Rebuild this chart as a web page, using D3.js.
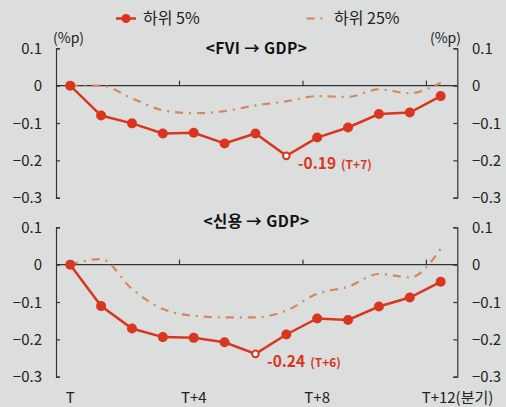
<!DOCTYPE html>
<html><head><meta charset="utf-8">
<script src="https://cdn.jsdelivr.net/npm/d3@7"></script>
<style>
html,body{margin:0;padding:0;background:#dcdedd;}
svg{display:block;font-family:"Noto Sans CJK KR","Noto Sans",sans-serif;}
</style></head>
<body><svg id="c" width="506" height="407"></svg>
<script>
const periods = ["T","T+1","T+2","T+3","T+4","T+5","T+6","T+7","T+8","T+9","T+10","T+11","T+12"];
const tickLabels = ["T","T+4","T+8","T+12(분기)"];
const seriesNames = ["하위 5%","하위 25%"];
const fviLow5  = [0,-0.080,-0.101,-0.128,-0.126,-0.155,-0.128,-0.188,-0.139,-0.112,-0.076,-0.072,-0.028];
const fviLow25 = [0,0.000,-0.034,-0.066,-0.074,-0.068,-0.053,-0.042,-0.028,-0.030,-0.010,-0.020,0.008];
const crdLow5  = [0,-0.111,-0.171,-0.194,-0.196,-0.208,-0.239,-0.187,-0.144,-0.148,-0.112,-0.088,-0.046];
const crdLow25 = [0,0.015,-0.065,-0.119,-0.137,-0.141,-0.141,-0.123,-0.078,-0.059,-0.025,-0.034,0.042];
const yTicks = [0.1,0,-0.1,-0.2,-0.3];
const panelTitles = ["<FVI → GDP>","<신용 → GDP>"];
const minLabels = [{v:"-0.19",p:"(T+7)",i:7},{v:"-0.24",p:"(T+6)",i:6}];

const RED="#d9361f", ORANGE="#d4875a";
const svg=d3.select("#c");
const x=d3.scaleBand().domain(periods).range([56,457.3]);
const cx=d=>x(d)+x.bandwidth()/2-1.2;

// legend
const lg=svg.append("g");
lg.append("line").attr("x1",116).attr("x2",136).attr("y1",18.5).attr("y2",18.5).attr("stroke",RED).attr("stroke-width",2.5);
lg.append("circle").attr("cx",126).attr("cy",18.5).attr("r",4.5).attr("fill",RED);
lg.append("text").attr("x",143).attr("y",24).attr("font-size",16).attr("fill","#222").text(seriesNames[0]);
lg.append("line").attr("x1",306.5).attr("x2",326).attr("y1",18.5).attr("y2",18.5).attr("stroke",ORANGE).attr("stroke-width",2.2).attr("stroke-dasharray","8,6,2,6");
lg.append("text").attr("x",334).attr("y",24).attr("font-size",16).attr("fill","#222").text(seriesNames[1]);

function panel(top, bottom, d5, d25, title, titleY, ml){
  const y=d3.scaleLinear().domain([-0.3,0.1]).range([bottom,top]);
  const g=svg.append("g");
  const fmt=d=>d===0?"0":d3.format(".1f")(d);
  const la=g.append("g").attr("transform","translate(56,0)").call(d3.axisRight(y).tickValues(yTicks).tickSize(4).tickFormat(""));
  const ra=g.append("g").attr("transform","translate(457.3,0)").call(d3.axisLeft(y).tickValues(yTicks).tickSize(4).tickFormat(""));
  [la,ra].forEach(a=>{a.select(".domain").attr("stroke","#333").attr("stroke-width",1.2);a.selectAll(".tick line").attr("stroke","#333").attr("stroke-width",1.2);});
  g.selectAll(".yl").data(yTicks).join("text").attr("x",42).attr("y",d=>y(d)+5.5).attr("text-anchor","end").attr("font-size",15).attr("fill","#222").text(fmt);
  g.selectAll(".yr").data(yTicks).join("text").attr("x",472).attr("y",d=>y(d)+5.5).attr("text-anchor","start").attr("font-size",15).attr("fill","#222").text(fmt);
  // zero line
  g.append("line").attr("x1",56).attr("x2",457.3).attr("y1",y(0)).attr("y2",y(0)).attr("stroke","#333").attr("stroke-width",1.2);
  g.selectAll(".zt").data(["T+4","T+8","T+12"]).join("line").attr("x1",d=>x(d)).attr("x2",d=>x(d)).attr("y1",y(0)).attr("y2",y(0)-5).attr("stroke","#333").attr("stroke-width",1.2);
  g.append("text").attr("x",256.5).attr("y",titleY).attr("text-anchor","middle").attr("font-size",15.5).attr("font-weight","bold").attr("fill","#111").attr("letter-spacing",0.4).text(title);
  // 25% line
  const line25=d3.line().x((d,i)=>cx(periods[i])).y(d=>y(d)).curve(d3.curveMonotoneX);
  g.append("path").attr("d",line25(d25)).attr("fill","none").attr("stroke",ORANGE).attr("stroke-width",2.2).attr("stroke-dasharray","8,6,2,6");
  // 5% line
  const line5=d3.line().x((d,i)=>cx(periods[i])).y(d=>y(d));
  g.append("path").attr("d",line5(d5)).attr("fill","none").attr("stroke",RED).attr("stroke-width",2.5);
  g.selectAll(".pt").data(d5).join("circle")
    .attr("cx",(d,i)=>cx(periods[i])).attr("cy",d=>y(d))
    .attr("r",(d,i)=>i===ml.i?3.3:5)
    .attr("fill",(d,i)=>i===ml.i?"#fff":RED)
    .attr("stroke",RED).attr("stroke-width",(d,i)=>i===ml.i?2:0);
  const mx=cx(periods[ml.i]), my=y(d5[ml.i]);
  const t=g.append("text").attr("x",mx+11.5).attr("y",my+13.5).attr("fill",RED).attr("font-weight","bold");
  t.append("tspan").attr("font-size",15.5).text(ml.v);
  t.append("tspan").attr("font-size",12).attr("dx",5).text(ml.p);
  return y;
}

panel(48.3,197.7,fviLow5,fviLow25,panelTitles[0],53.5,minLabels[0]);
panel(227.3,376.7,crdLow5,crdLow25,panelTitles[1],226.5,minLabels[1]);

// units
svg.append("text").attr("x",53).attr("y",43).attr("font-size",14).attr("fill","#222").text("(%p)");
svg.append("text").attr("x",461).attr("y",43).attr("text-anchor","end").attr("font-size",14).attr("fill","#222").text("(%p)");

// x axis labels
const xl=svg.append("g");
tickLabels.forEach(lab=>{
  const key = lab.startsWith("T+12")?"T+12":lab;
  const c=cx(key);
  if(lab.startsWith("T+12")){
    xl.append("text").attr("x",c-19).attr("y",403).attr("text-anchor","start").attr("font-size",15).attr("fill","#222").text(lab);
  } else {
    xl.append("text").attr("x",c).attr("y",403).attr("text-anchor","middle").attr("font-size",15).attr("fill","#222").text(lab);
  }
});
</script></body></html>
